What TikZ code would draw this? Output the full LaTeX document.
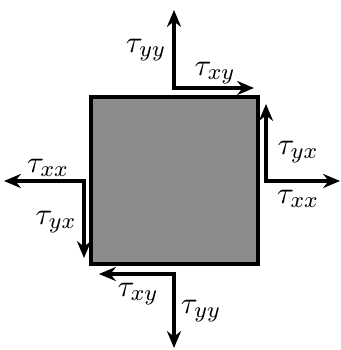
\documentclass[tikz,border=0pt]{standalone}
\usetikzlibrary{arrows.meta}
\tikzset{
  force/.style={{Stealth[length=6pt,width=5pt]}-{Stealth[length=6pt,width=5pt]},line width=1.1pt},
  stress/.style={font=\fontsize{11}{13}\selectfont},
}
\begin{document}
\begin{tikzpicture}[x=0.0125cm,y=0.0125cm]
      \useasboundingbox (0,0) rectangle (341,350);
      \draw[line width=1.3pt,fill=black!45] (91,86) rectangle (258,253);

      \coordinate (T) at (174,262);
      \coordinate (Ty) at (174,340);
      \coordinate (Tx) at (254,262);
      \coordinate (R) at (266,169);
      \coordinate (Ry) at (266,246);
      \coordinate (Rx) at (340,169);
      \coordinate (L) at (84,169);
      \coordinate (Ly) at (84,92);
      \coordinate (Lx) at (4,169);
      \coordinate (B) at (174,76);
      \coordinate (By) at (174,2);
      \coordinate (Bx) at (99,76);

      \draw[force] (Ty) -- (T) -- (Tx);
      \draw[force] (Ry) -- (R) -- (Rx);
      \draw[force] (Lx) -- (L) -- (Ly);
      \draw[force] (Bx) -- (B) -- (By);

      \node[stress] (tyyT) at (146,300) {$\tau_{yy}$};
      \node[stress] (txyT) at (215,277) {$\tau_{xy}$};
      \node[stress] (tyxR) at (298,198) {$\tau_{yx}$};
      \node[stress] (txxR) at (298,151) {$\tau_{xx}$};
      \node[stress] (txxL) at (48,182) {$\tau_{xx}$};
      \node[stress] (tyxL) at (56,128) {$\tau_{yx}$};
      \node[stress] (txyB) at (138,56) {$\tau_{xy}$};
      \node[stress] (tyyB) at (201,39) {$\tau_{yy}$};
    \end{tikzpicture}
\end{document}
